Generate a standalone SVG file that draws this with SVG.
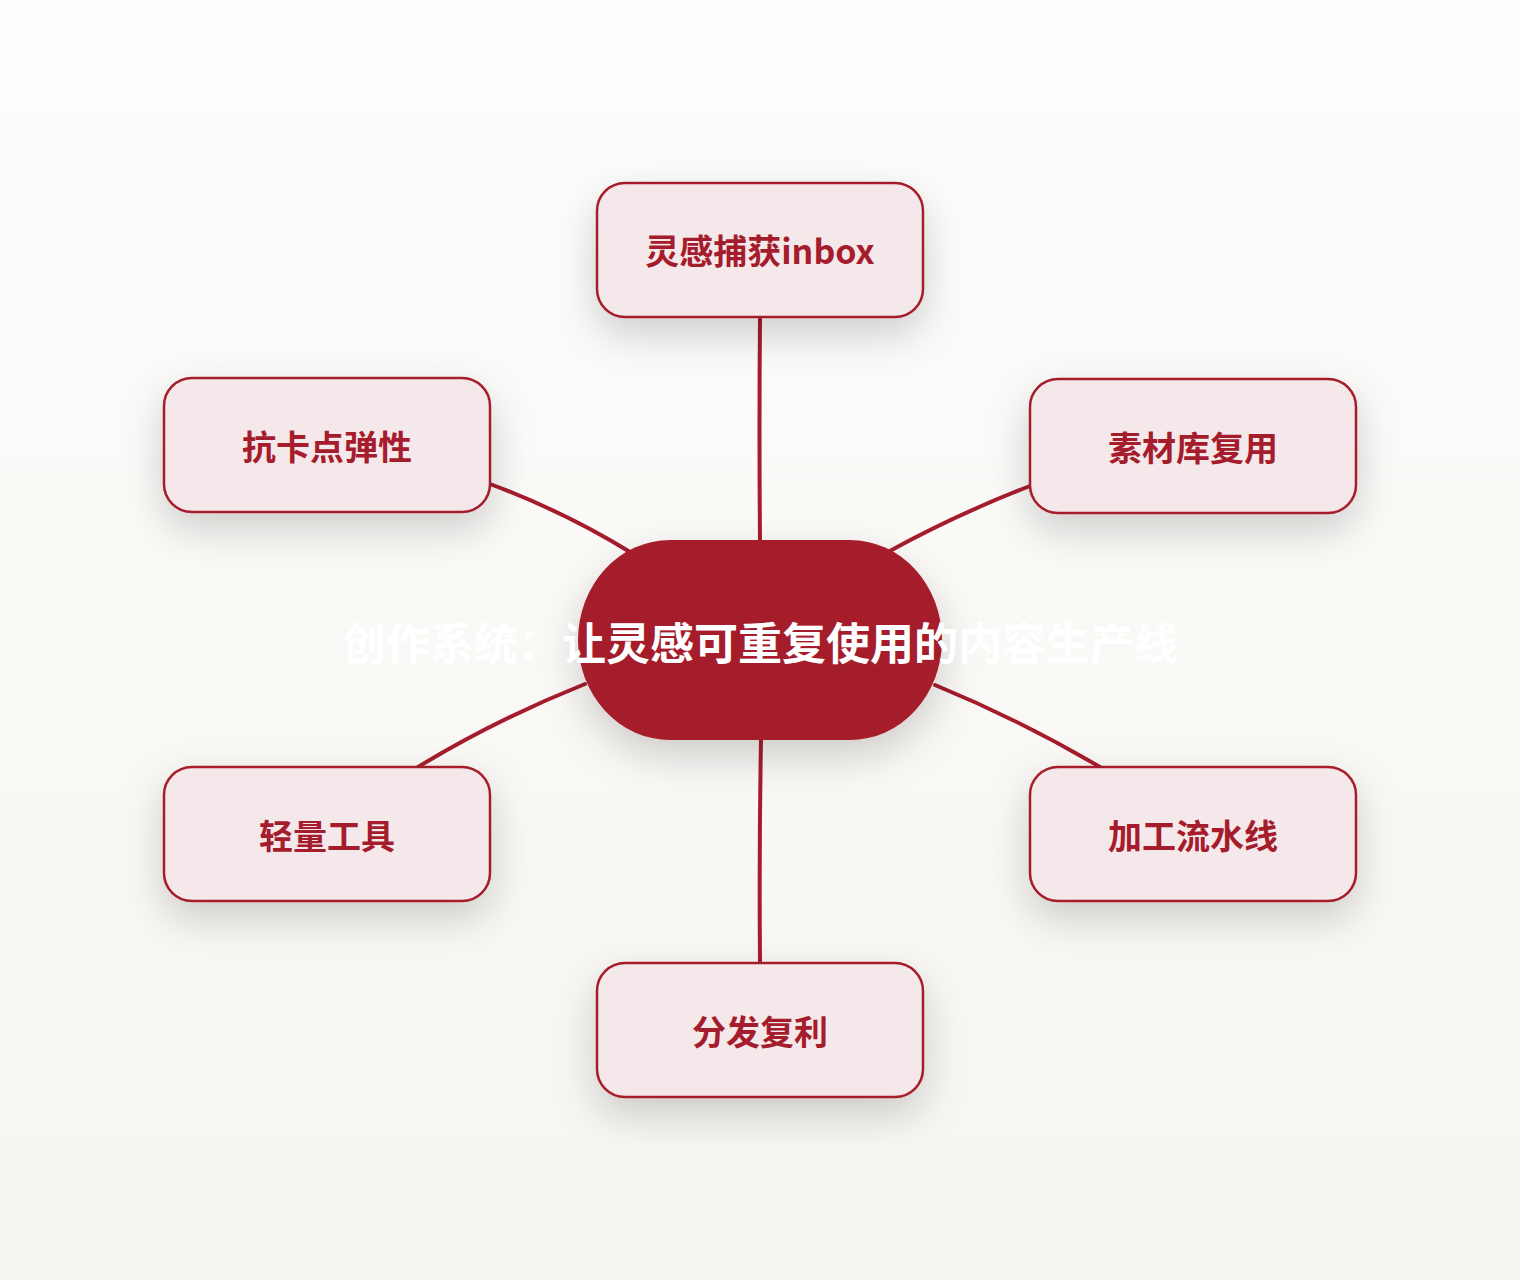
<svg xmlns="http://www.w3.org/2000/svg" width="1520" height="1280" viewBox="0 0 1520 1280">
<defs>
<linearGradient id="bg" x1="0" y1="0" x2="0" y2="1">
<stop offset="0" stop-color="#fdfdfc"/>
<stop offset="1" stop-color="#f7f5f1"/>
</linearGradient>
<filter id="sh" x="-40%" y="-40%" width="180%" height="200%">
<feDropShadow dx="0" dy="16" stdDeviation="20" flood-color="#000" flood-opacity="0.18"/>
</filter>
</defs>
<style>
.node rect{fill:#f5e8ea;stroke:#a51c2c;stroke-width:2.5;filter:url(#sh)}
.node text{font-family:"Noto Sans CJK SC","Noto Sans",sans-serif;font-weight:700;font-size:34px;fill:#a51c2c;text-anchor:middle}
.conn path{fill:none;stroke:#a51c2c;stroke-width:4;stroke-linecap:round}
.center rect{fill:#a51c2c;filter:url(#sh)}
.center text{font-family:"Noto Sans CJK SC","Noto Sans",sans-serif;font-weight:700;font-size:44px;fill:#ffffff;text-anchor:middle}
</style>
<rect width="1520" height="1280" fill="url(#bg)"/>
<g class="conn">
<path d="M760,317 Q759,430 760,540"/>
<path d="M490,484 Q565,512 630,552"/>
<path d="M1030,486 Q955,515 888,552"/>
<path d="M585,684 Q495,720 418,767"/>
<path d="M935,685 Q1020,720 1100,767"/>
<path d="M761,740 Q759,850 760,963"/>
</g>
<g id="center" class="center">
<rect x="578" y="540" width="364" height="200" rx="92" ry="100"/>
<text x="760" y="660">创作系统：让灵感可重复使用的内容生产线</text>
</g>
<g id="n1" class="node">
<rect x="597" y="183" width="326" height="134" rx="28"/>
<text x="760" y="264">灵感捕获inbox</text>
</g>
<g id="n2" class="node">
<rect x="164" y="378" width="326" height="134" rx="28"/>
<text x="327" y="460">抗卡点弹性</text>
</g>
<g id="n3" class="node">
<rect x="1030" y="379" width="326" height="134" rx="28"/>
<text x="1193" y="461">素材库复用</text>
</g>
<g id="n4" class="node">
<rect x="164" y="767" width="326" height="134" rx="28"/>
<text x="327" y="849">轻量工具</text>
</g>
<g id="n5" class="node">
<rect x="1030" y="767" width="326" height="134" rx="28"/>
<text x="1193" y="849">加工流水线</text>
</g>
<g id="n6" class="node">
<rect x="597" y="963" width="326" height="134" rx="28"/>
<text x="760" y="1045">分发复利</text>
</g>
</svg>
